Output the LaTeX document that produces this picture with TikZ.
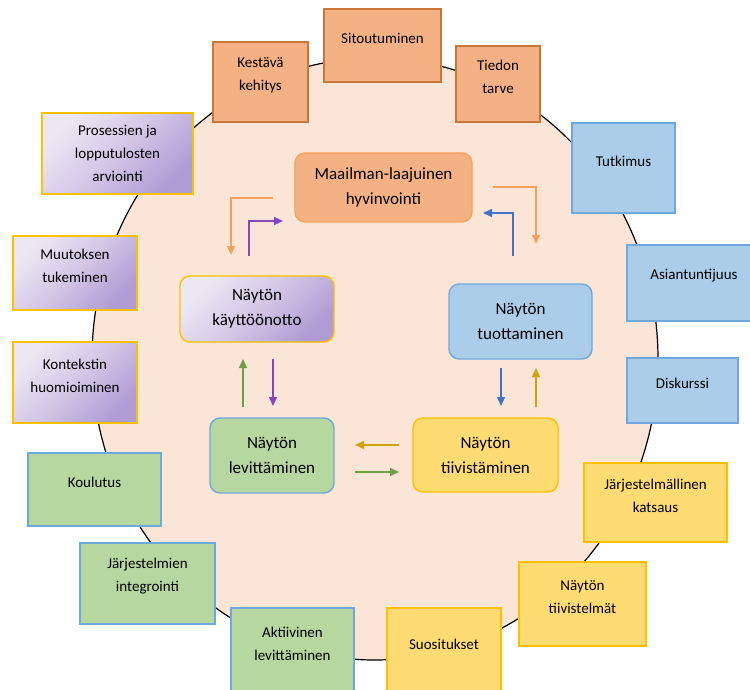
\documentclass[tikz,border=0pt]{standalone}
\usepackage{fontspec}
\setmainfont{Carlito}
\usetikzlibrary{shapes.geometric, arrows.meta}

\definecolor{wheelfill}{HTML}{FBE5D6}
\definecolor{orFill}{HTML}{F4B183}
\definecolor{orLine}{HTML}{C8763A}
\definecolor{orLineIn}{HTML}{F5A35C}
\definecolor{blFill}{HTML}{ABCDEA}
\definecolor{blLine}{HTML}{6FA8DC}
\definecolor{grFill}{HTML}{B6D7A0}
\definecolor{yeFill}{HTML}{FFDB73}
\definecolor{yeLine}{HTML}{FFC000}
\definecolor{lavLight}{HTML}{ECE8F3}
\definecolor{lavMid}{HTML}{D2C6E6}
\definecolor{lavDark}{HTML}{B09CD4}
\definecolor{arrOrange}{HTML}{F4A15D}
\definecolor{arrPurple}{HTML}{8447C0}
\definecolor{arrBlue}{HTML}{4472C4}
\definecolor{arrGold}{HTML}{D4A20C}
\definecolor{arrGreen}{HTML}{6E9F45}

\begin{document}
\begin{tikzpicture}[
    x=1pt, y=-1pt,
    outerbox/.style={
        rectangle,
        line width=1.4pt,
        inner sep=0pt
    },
    boxtext/.style={
        font=\fontsize{15}{23}\selectfont,
        align=center,
        yshift=7pt
    },
    stage/.style={
        rectangle,
        rounded corners=10pt,
        line width=1.4pt,
        align=center,
        font=\fontsize{17}{25}\selectfont
    },
    orangebox/.style={outerbox, draw=orLine, fill=orFill},
    bluebox/.style={outerbox, draw=blLine, fill=blFill},
    greenbox/.style={outerbox, draw=blLine, fill=grFill},
    yellowbox/.style={outerbox, draw=yeLine, fill=yeFill},
    lavbox/.style={
        outerbox, draw=yeLine,
        top color=lavLight, bottom color=lavDark, middle color=lavMid,
        shading angle=45
    },
    arrow/.style={
        line width=1.5pt,
        -{Triangle[length=9pt, width=8pt]}
    }
]
    \useasboundingbox (0,0) rectangle (750,690);

    % Background wheel
    \node [ellipse, draw=black, line width=1.2pt, fill=wheelfill,
           minimum width=566, minimum height=602] (wheel) at (375,359) {};

    % Orange group
    \node [orangebox, minimum width=95, minimum height=80,
           label={[boxtext]center:Kestävä\\kehitys}] (kestava) at (260.5,82) {};
    \node [orangebox, minimum width=117, minimum height=73,
           label={[boxtext]center:Sitoutuminen}] (sitout) at (382.5,45.5) {};
    \node [orangebox, minimum width=84, minimum height=76,
           label={[boxtext]center:Tiedon\\tarve}] (tiedon) at (498,84) {};

    % Blue group
    \node [bluebox, minimum width=103, minimum height=90,
           label={[boxtext]center:Tutkimus}] (tutkimus) at (623.5,168) {};
    \node [bluebox, minimum width=134, minimum height=76,
           label={[boxtext]center:Asiantuntijuus}] (asiant) at (694,283) {};
    \node [bluebox, minimum width=111, minimum height=65,
           label={[boxtext]center:Diskurssi}] (diskurssi) at (682.5,390.5) {};

    % Yellow group
    \node [yellowbox, minimum width=143, minimum height=79,
           label={[boxtext]center:Järjestelmällinen\\katsaus}] (katsaus) at (655.5,502.5) {};
    \node [yellowbox, minimum width=127, minimum height=84,
           label={[boxtext]center:Näytön\\tiivistelmät}] (tiivistelmat) at (582.5,604) {};
    \node [yellowbox, minimum width=114, minimum height=90,
           label={[boxtext, yshift=2pt]center:Suositukset}] (suositukset) at (444,653) {};

    % Green group
    \node [greenbox, minimum width=123, minimum height=90,
           label={[boxtext, yshift=2pt]center:Aktiivinen\\levittäminen}] (aktiivinen) at (292.5,653) {};
    \node [greenbox, minimum width=135, minimum height=81,
           label={[boxtext]center:Järjestelmien\\integrointi}] (integrointi) at (147.5,583.5) {};
    \node [greenbox, minimum width=133, minimum height=73,
           label={[boxtext]center:Koulutus}] (koulutus) at (94.5,489.5) {};

    % Lavender group
    \node [lavbox, minimum width=124, minimum height=81,
           label={[boxtext]center:Kontekstin\\huomioiminen}] (konteksti) at (75,382.5) {};
    \node [lavbox, minimum width=124, minimum height=74,
           label={[boxtext]center:Muutoksen\\tukeminen}] (muutos) at (75,273) {};
    \node [lavbox, minimum width=151, minimum height=81,
           label={[boxtext, yshift=-7pt]center:Prosessien ja\\lopputulosten\\arviointi}] (arviointi) at (117.5,153.5) {};

    % Stages of the cycle
    \node [stage, draw=orLineIn, fill=orFill, minimum width=177, minimum height=69] (maailma) at (383.5,187.5) {Maailman-laajuinen\\hyvinvointi};
    \node [stage, draw=blLine, fill=blFill, minimum width=143, minimum height=75] (tuottaminen) at (520.5,321.5) {Näytön\\tuottaminen};
    \node [stage, draw=yeLine, fill=yeFill, minimum width=145, minimum height=74] (tiivistaminen) at (485.5,455) {Näytön\\tiivistäminen};
    \node [stage, draw=blLine, fill=grFill, minimum width=124, minimum height=75] (levittaminen) at (272,455.5) {Näytön\\levittäminen};
    \node [stage, draw=yeLine, top color=lavLight, bottom color=lavDark, middle color=lavMid,
           shading angle=45, minimum width=154, minimum height=66] (kaytto) at (257,309) {Näytön\\käyttöönotto};

    % Arrow ends
    \coordinate (wk1) at (273,198);   \coordinate (wk2) at (231,255);
    \coordinate (kw1) at (249,256);   \coordinate (kw2) at (283,221);
    \coordinate (wt1) at (493,187);   \coordinate (wt2) at (536,244);
    \coordinate (tw1) at (513,256);   \coordinate (tw2) at (483,213);
    \coordinate (ts1) at (501,368);   \coordinate (ts2) at (501,406);
    \coordinate (st1) at (536,407);   \coordinate (st2) at (536,368);
    \coordinate (sl1) at (399,445);   \coordinate (sl2) at (355,445);
    \coordinate (ls1) at (355,472);   \coordinate (ls2) at (399,472);
    \coordinate (lk1) at (243,407);   \coordinate (lk2) at (243,359);
    \coordinate (kl1) at (273,359);   \coordinate (kl2) at (273,406);

    % Connections
    \draw [arrow, draw=arrOrange] (wk1) -| (wk2);
    \draw [arrow, draw=arrPurple] (kw1) |- (kw2);
    \draw [arrow, draw=arrOrange] (wt1) -| (wt2);
    \draw [arrow, draw=arrBlue] (tw1) |- (tw2);
    \draw [arrow, draw=arrBlue] (ts1) -- (ts2);
    \draw [arrow, draw=arrGold] (st1) -- (st2);
    \draw [arrow, draw=arrGold] (sl1) -- (sl2);
    \draw [arrow, draw=arrGreen] (ls1) -- (ls2);
    \draw [arrow, draw=arrGreen] (lk1) -- (lk2);
    \draw [arrow, draw=arrPurple] (kl1) -- (kl2);

\end{tikzpicture}
\end{document}
